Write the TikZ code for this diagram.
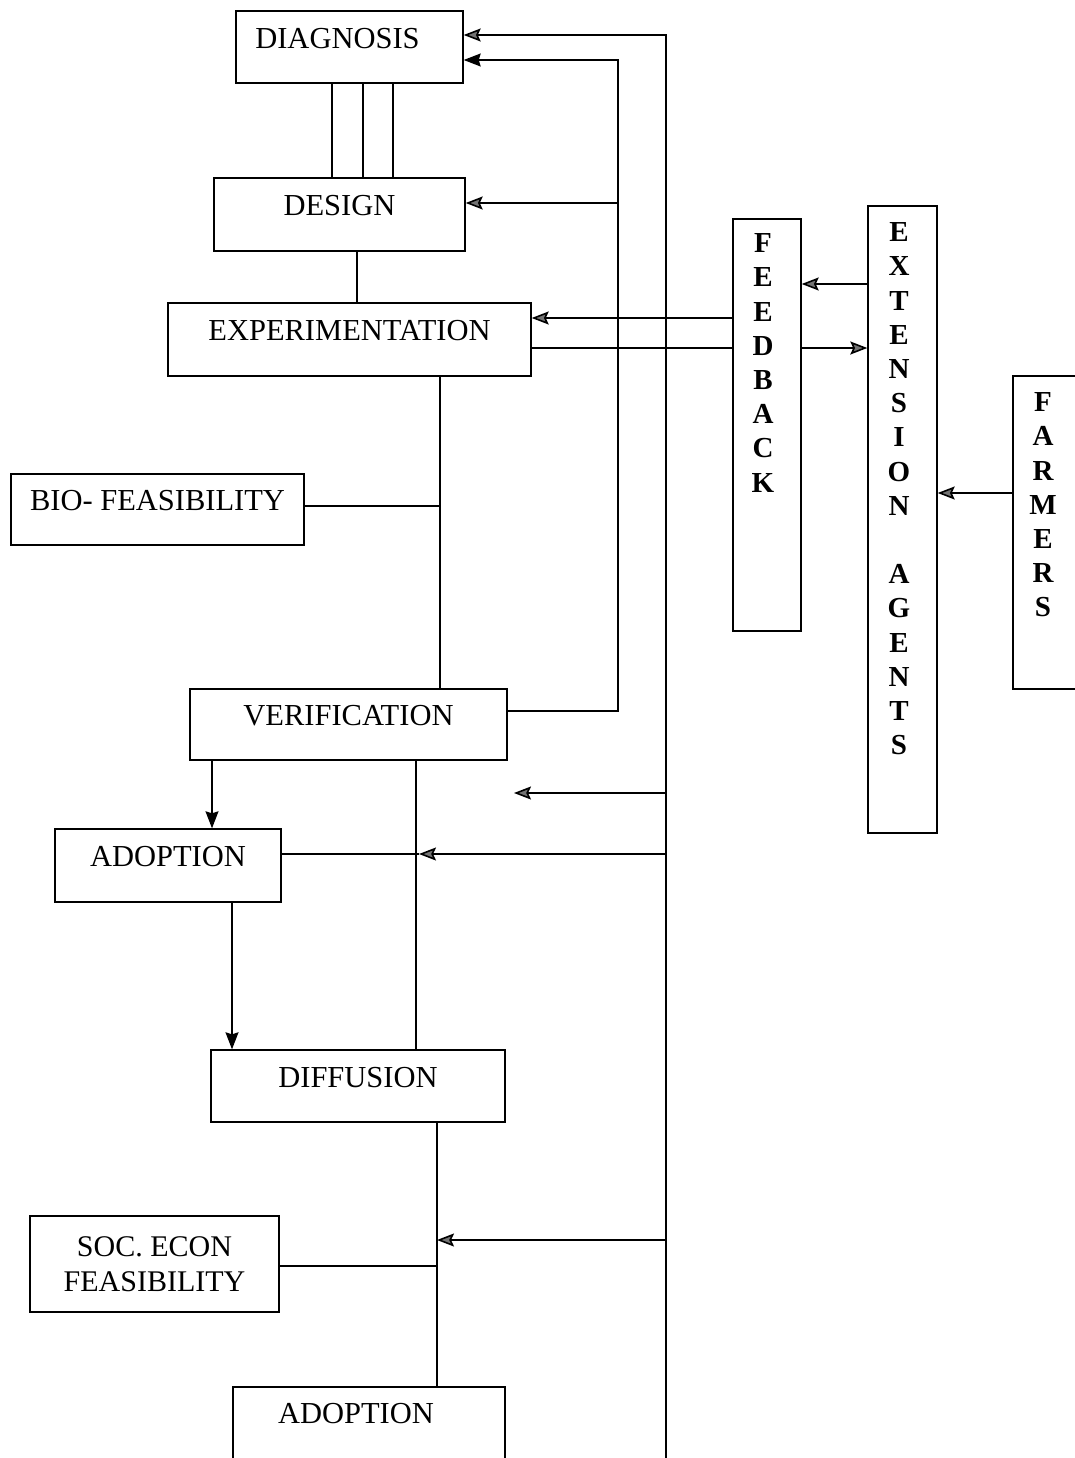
\documentclass[tikz,border=0pt]{standalone}
\usepackage{fontspec}
\setmainfont{Liberation Serif}
\usetikzlibrary{arrows.meta}
\begin{document}
\begin{tikzpicture}[x=1pt,y=-1pt,
  box/.style={draw, line width=1.4pt, inner sep=0pt, font=\fontsize{30.5}{35}\selectfont, text height=20.2pt, text depth=18pt},
  mbox/.style={draw, line width=1.4pt, inner sep=0pt, align=center, font=\fontsize{30}{35}\selectfont},
  vbox/.style={draw, line width=1.4pt, inner sep=0pt},
  vstack/.style={inner sep=0pt, align=center, font=\fontsize{29}{34.2}\selectfont\bfseries, anchor=north},
  conn/.style={line width=1.2pt},
  gtip/.style={conn, -{Stealth[length=17pt,width=13pt,inset=3pt,fill=black!55,line width=1.6pt]}},
  btip/.style={conn, -{Stealth[length=17pt,width=13pt,inset=2pt]}}]
\useasboundingbox (0,0) rectangle (1075,1458);
\fill[white] (0,0) rectangle (1075,1458);
\clip (0,0) rectangle (1075,1458);

% boxes
\node[box, minimum width=227pt, minimum height=72pt] (diag) at (349.5,47) {DIAGNOSIS\hspace*{24pt}};
\node[box, minimum width=251pt, minimum height=73pt] (design) at (339.5,214.5) {DESIGN};
\node[box, minimum width=363pt, minimum height=73pt] (exper) at (349.5,339.5) {EXPERIMENTATION};
\node[box, minimum width=293pt, minimum height=71pt] (bio) at (157.5,509.5) {BIO- FEASIBILITY};
\node[box, minimum width=317pt, minimum height=71pt] (verif) at (348.5,724.5) {VERIFICATION};
\node[box, minimum width=226pt, minimum height=73pt] (adopt1) at (168,865.5) {ADOPTION};
\node[box, minimum width=294pt, minimum height=72pt] (diff) at (358,1086) {DIFFUSION};
\node[mbox, minimum width=249pt, minimum height=96pt] (soc) at (154.5,1264) {SOC. ECON\\FEASIBILITY};
\node[box, text depth=23pt, minimum width=272pt, minimum height=75pt] (adopt2) at (369,1424.5) {ADOPTION\hspace*{26pt}};

\node[vbox, minimum width=68pt, minimum height=412pt] (feed) at (767,425) {};
\node[vbox, minimum width=69pt, minimum height=627pt] (ext) at (902.5,519.5) {};
\node[vbox, minimum width=82pt, minimum height=313pt] (farm) at (1054,532.5) {};

\node[vstack] (feedT) at (763,233.5) {F\\E\\E\\D\\B\\A\\C\\K};
\node[vstack] (extT) at (899,222.5) {E\\X\\T\\E\\N\\S\\I\\O\\N\\[34.2pt]A\\G\\E\\N\\T\\S};
\node[vstack] (farmT) at (1043,392.5) {F\\A\\R\\M\\E\\R\\S};

% columns and rows
\coordinate (c332) at (332,0);
\coordinate (c363) at (363,0);
\coordinate (c393) at (393,0);
\coordinate (c357) at (357,0);
\coordinate (c440) at (440,0);
\coordinate (c212) at (212,0);
\coordinate (c416) at (416,0);
\coordinate (c232) at (232,0);
\coordinate (c437) at (437,0);
\coordinate (c618) at (618,0);
\coordinate (c419) at (419,0);
\coordinate (top666) at (666,35);
\coordinate (bot666) at (666,1470);
\coordinate (r60) at (0,60);
\coordinate (r203) at (0,203);
\coordinate (r284) at (0,284);
\coordinate (r318) at (0,318);
\coordinate (r348) at (0,348);
\coordinate (r493) at (0,493);
\coordinate (r506) at (0,506);
\coordinate (r711) at (0,711);
\coordinate (r793) at (0,793);
\coordinate (r854) at (0,854);
\coordinate (r1240) at (0,1240);
\coordinate (r1266) at (0,1266);
\coordinate (tip793) at (514,793);

% connectors
\draw[conn] (diag.south -| c332) -- (design.north -| c332);
\draw[conn] (diag.south -| c363) -- (design.north -| c363);
\draw[conn] (diag.south -| c393) -- (design.north -| c393);
\draw[conn] (design.south -| c357) -- (exper.north -| c357);

\draw[gtip] (bot666) -- (top666) -- (diag.east |- top666);
\draw[btip] (verif.east |- r711) -- (c618 |- r711) -- (c618 |- r60) -- (diag.east |- r60);
\draw[gtip] (c618 |- r203) -- (design.east |- r203);

\draw[gtip] (feed.west |- r318) -- (exper.east |- r318);
\draw[conn] (exper.east |- r348) -- (feed.west |- r348);
\draw[gtip] (feed.east |- r348) -- (ext.west |- r348);
\draw[gtip] (ext.west |- r284) -- (feed.east |- r284);
\draw[gtip] (farm.west |- r493) -- (ext.east |- r493);

\draw[conn] (exper.south -| c440) -- (verif.north -| c440);
\draw[conn] (bio.east |- r506) -- (c440 |- r506);

\draw[btip] (verif.south -| c212) -- (adopt1.north -| c212);
\draw[conn] (verif.south -| c416) -- (diff.north -| c416);
\draw[gtip] (top666 |- r793) -- (tip793);
\draw[gtip] (top666 |- r854) -- (c419 |- r854);
\draw[conn] (adopt1.east |- r854) -- (c419 |- r854);
\draw[btip] (adopt1.south -| c232) -- (diff.north -| c232);

\draw[conn] (diff.south -| c437) -- (adopt2.north -| c437);
\draw[conn] (soc.east |- r1266) -- (c437 |- r1266);
\draw[gtip] (top666 |- r1240) -- (c437 |- r1240);
\end{tikzpicture}
\end{document}
